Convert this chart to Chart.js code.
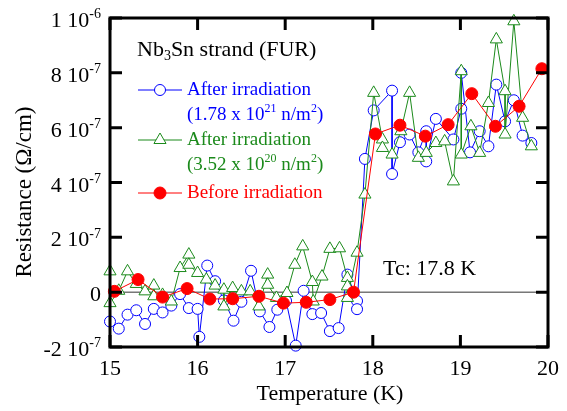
<!DOCTYPE html>
<html>
<head>
<meta charset="utf-8">
<script src="https://cdn.jsdelivr.net/npm/chart.js@4.4.0/dist/chart.umd.min.js"></script>
<style>
html, body { margin: 0; padding: 0; background: #fff; }
</style>
</head>
<body>
<canvas id="resChart" width="567" height="411"></canvas>
<script>
// resistance values in units of 1e-7 ohm/cm
var tempBlue = [15.0, 15.1, 15.2, 15.3, 15.4, 15.5, 15.6, 15.7, 15.8, 15.9, 16.0, 16.02, 16.11, 16.2, 16.3, 16.41, 16.5, 16.61, 16.71, 16.82, 16.91, 17.01, 17.12, 17.21, 17.31, 17.41, 17.51, 17.61, 17.71, 17.82, 17.82, 17.91, 18.01, 18.22, 18.22, 18.31, 18.42, 18.52, 18.61, 18.61, 18.72, 18.92, 19.01, 19.01, 19.11, 19.22, 19.32, 19.41, 19.51, 19.61, 19.71, 19.81];
var resBlue = [-1.07, -1.33, -0.82, -0.66, -1.16, -0.61, -0.74, -0.49, -0.07, -0.58, -0.61, -1.63, 0.97, 0.4, -0.3, -1.04, -0.35, 0.78, -0.7, -1.27, -0.64, -0.32, -1.95, 0.05, -0.8, -0.76, -1.42, -1.31, 0.64, -0.32, -0.62, 4.86, 6.63, 7.35, 4.31, 5.47, 5.75, 5.1, 5.87, 4.77, 6.32, 5.57, 6.69, 8.0, 5.1, 5.87, 5.32, 7.57, 6.23, 7.0, 5.71, 5.44];

var tempGreen = [15.0, 15.0, 15.1, 15.2, 15.3, 15.4, 15.5, 15.5, 15.6, 15.7, 15.8, 15.9, 15.9, 16.0, 16.1, 16.2, 16.3, 16.3, 16.4, 16.5, 16.6, 16.7, 16.8, 16.8, 16.9, 17.02, 17.11, 17.2, 17.31, 17.32, 17.42, 17.51, 17.62, 17.71, 17.71, 17.71, 17.82, 17.91, 18.01, 18.11, 18.11, 18.22, 18.32, 18.42, 18.52, 18.61, 18.72, 18.82, 18.92, 19.01, 19.01, 19.12, 19.22, 19.32, 19.41, 19.51, 19.51, 19.61, 19.71, 19.81];
var resGreen = [0.76, -0.4, 0.05, 0.76, 0.3, 0.03, 0.24, -0.15, -0.1, -0.34, 0.88, 1.37, 1.0, 0.7, 0.46, 0.24, 0.09, -0.52, 0.15, 0.03, 0.03, -0.52, 0.64, 0.27, -0.21, -0.03, 1.0, 1.67, 0.37, -0.34, 0.57, 1.58, 1.6, 0.52, 0.21, -0.21, 1.44, 3.56, 7.27, 5.57, 5.26, 5.02, 5.87, 7.27, 4.9, 5.08, 5.44, 5.5, 4.04, 8.06, 5.02, 6.05, 5.08, 6.9, 9.22, 7.33, 5.75, 9.88, 6.36, 5.32];

var tempRed = [15.05, 15.32, 15.6, 15.88, 16.14, 16.4, 16.7, 16.98, 17.24, 17.51, 17.78, 18.03, 18.31, 18.6, 18.86, 19.13, 19.4, 19.67, 19.93];
var resRed = [0.03, 0.46, -0.18, 0.13, -0.25, -0.24, -0.15, -0.4, -0.37, -0.27, 0.0, 5.77, 6.09, 5.69, 6.11, 7.24, 6.05, 6.78, 8.15];

var xTicks = [15, 16, 17, 18, 19, 20];
var yTicks = [-2, 0, 2, 4, 6, 8, 10];
var yTickMain = ['-2 10', '0', '2 10', '4 10', '6 10', '8 10', '1 10'];
var yTickSup = ['-7', '', '-7', '-7', '-7', '-7', '-6'];

var FONT = '"Liberation Serif", "Times New Roman", serif';
var BLUE = '#0000ff', GREEN = '#1b8a1b', RED = '#ff0000';

function pairs(xs, ys) {
	var out = [];
	for (var i = 0; i < xs.length; i++) out.push({x: xs[i], y: ys[i]});
	return out;
}

// parts: [text, 0 normal | 1 superscript | -1 subscript]
function richText(ctx, parts, x, y, align, size, color) {
	var small = Math.round(size * 0.62);
	var w = 0;
	parts.forEach(function(p){
		ctx.font = (p[1] ? small : size) + 'px ' + FONT;
		w += ctx.measureText(p[0]).width;
	});
	var cx = x;
	if (align == 'right') cx = x - w;
	if (align == 'center') cx = x - w / 2;
	ctx.textAlign = 'left';
	ctx.textBaseline = 'alphabetic';
	ctx.fillStyle = color;
	parts.forEach(function(p){
		ctx.font = (p[1] ? small : size) + 'px ' + FONT;
		var dy = 0;
		if (p[1] == 1) dy = -size * 0.4;
		if (p[1] == -1) dy = size * 0.2;
		ctx.fillText(p[0], cx, y + dy);
		cx += ctx.measureText(p[0]).width;
	});
}

var markers = {
	blue: {pointStyle: 'circle', radius: 5.5, borderWidth: 1, borderColor: BLUE, backgroundColor: '#fff'},
	green: {pointStyle: 'triangle', radius: 7, borderWidth: 1, borderColor: GREEN, backgroundColor: '#fff'},
	red: {pointStyle: 'circle', radius: 6, borderWidth: 1, borderColor: RED, backgroundColor: RED}
};

var framePlugin = {
	id: 'frame',
	beforeDatasetsDraw: function(chart) {
		var ctx = chart.ctx, a = chart.chartArea;
		var y0 = chart.scales.y.getPixelForValue(0);
		ctx.save();
		ctx.strokeStyle = '#333';
		ctx.lineWidth = 1;
		ctx.beginPath();
		ctx.moveTo(a.left, y0);
		ctx.lineTo(a.right, y0);
		ctx.stroke();
		ctx.restore();
	},
	afterDraw: function(chart) {
		var ctx = chart.ctx, a = chart.chartArea;
		var xs = chart.scales.x, ys = chart.scales.y;
		ctx.save();
		ctx.strokeStyle = '#000';
		ctx.lineWidth = 3;
		ctx.strokeRect(a.left, a.top, a.right - a.left, a.bottom - a.top);
		var tl = 12;
		ctx.beginPath();
		xTicks.forEach(function(v){
			var px = xs.getPixelForValue(v);
			ctx.moveTo(px, a.bottom); ctx.lineTo(px, a.bottom - tl);
			ctx.moveTo(px, a.top); ctx.lineTo(px, a.top + tl);
		});
		yTicks.forEach(function(v){
			var py = ys.getPixelForValue(v);
			ctx.moveTo(a.left, py); ctx.lineTo(a.left + tl, py);
			ctx.moveTo(a.right, py); ctx.lineTo(a.right - tl, py);
		});
		ctx.stroke();

		// tick labels
		xTicks.forEach(function(v){
			richText(ctx, [[String(v), 0]], xs.getPixelForValue(v), a.bottom + 28, 'center', 22, '#000');
		});
		yTicks.forEach(function(v, i){
			var parts = [[yTickMain[i], 0]];
			if (yTickSup[i]) parts.push([yTickSup[i], 1]);
			richText(ctx, parts, 101, ys.getPixelForValue(v) + 9, 'right', 22, '#000');
		});

		// axis titles
		richText(ctx, [['Temperature (K)', 0]], 330, 400, 'center', 22, '#000');
		ctx.save();
		ctx.translate(31, 192);
		ctx.rotate(-Math.PI / 2);
		richText(ctx, [['Resistance (\u03A9/cm)', 0]], 0, 0, 'center', 23, '#000');
		ctx.restore();

		// legend
		richText(ctx, [['Nb', 0], ['3', -1], ['Sn strand (FUR)', 0]], 137, 56, 'left', 22, '#000');
		var rows = [
			{m: markers.blue, c: BLUE, y: 90, l1: [['After irradiation', 0]], l2: [['(1.78 x 10', 0], ['21', 1], [' n/m', 0], ['2', 1], [')', 0]]},
			{m: markers.green, c: GREEN, y: 140, l1: [['After irradiation', 0]], l2: [['(3.52 x 10', 0], ['20', 1], [' n/m', 0], ['2', 1], [')', 0]]},
			{m: markers.red, c: RED, y: 193, l1: [['Before irradiation', 0]], l2: null}
		];
		rows.forEach(function(r){
			ctx.strokeStyle = r.c;
			ctx.lineWidth = 1;
			ctx.beginPath();
			ctx.moveTo(138, r.y); ctx.lineTo(182, r.y);
			ctx.stroke();
			ctx.strokeStyle = r.m.borderColor;
			ctx.fillStyle = r.m.backgroundColor;
			ctx.lineWidth = r.m.borderWidth;
			Chart.helpers.drawPoint(ctx, {pointStyle: r.m.pointStyle, radius: r.m.radius, borderWidth: r.m.borderWidth, rotation: 0}, 160, r.y);
			richText(ctx, r.l1, 187, r.y + 5, 'left', 19, r.c);
			if (r.l2) richText(ctx, r.l2, 187, r.y + 30, 'left', 19, r.c);
		});

		richText(ctx, [['Tc: 17.8 K', 0]], 383, 275, 'left', 22, '#000');
		ctx.restore();
	}
};

function series(label, xs, ys, color, m, order) {
	return {
		label: label,
		data: pairs(xs, ys),
		showLine: true,
		borderColor: color,
		borderWidth: 1,
		pointStyle: m.pointStyle,
		pointRadius: m.radius,
		pointBorderColor: m.borderColor,
		pointBackgroundColor: m.backgroundColor,
		pointBorderWidth: m.borderWidth,
		clip: false,
		order: order
	};
}

var resChart = new Chart(document.getElementById('resChart'), {
	type: 'scatter',
	data: {
		datasets: [
			series('After irradiation (1.78 x 10^21 n/m^2)', tempBlue, resBlue, BLUE, markers.blue, 3),
			series('After irradiation (3.52 x 10^20 n/m^2)', tempGreen, resGreen, GREEN, markers.green, 2),
			series('Before irradiation', tempRed, resRed, RED, markers.red, 1)
		]
	},
	options: {
		responsive: false,
		devicePixelRatio: 1,
		animation: false,
		layout: {padding: {left: 110, right: 19, top: 18, bottom: 64}},
		plugins: {legend: {display: false}, tooltip: {enabled: false}},
		scales: {
			x: {type: 'linear', min: 15, max: 20, display: false},
			y: {type: 'linear', min: -2, max: 10, display: false}
		}
	},
	plugins: [framePlugin]
});
</script>
</body>
</html>
